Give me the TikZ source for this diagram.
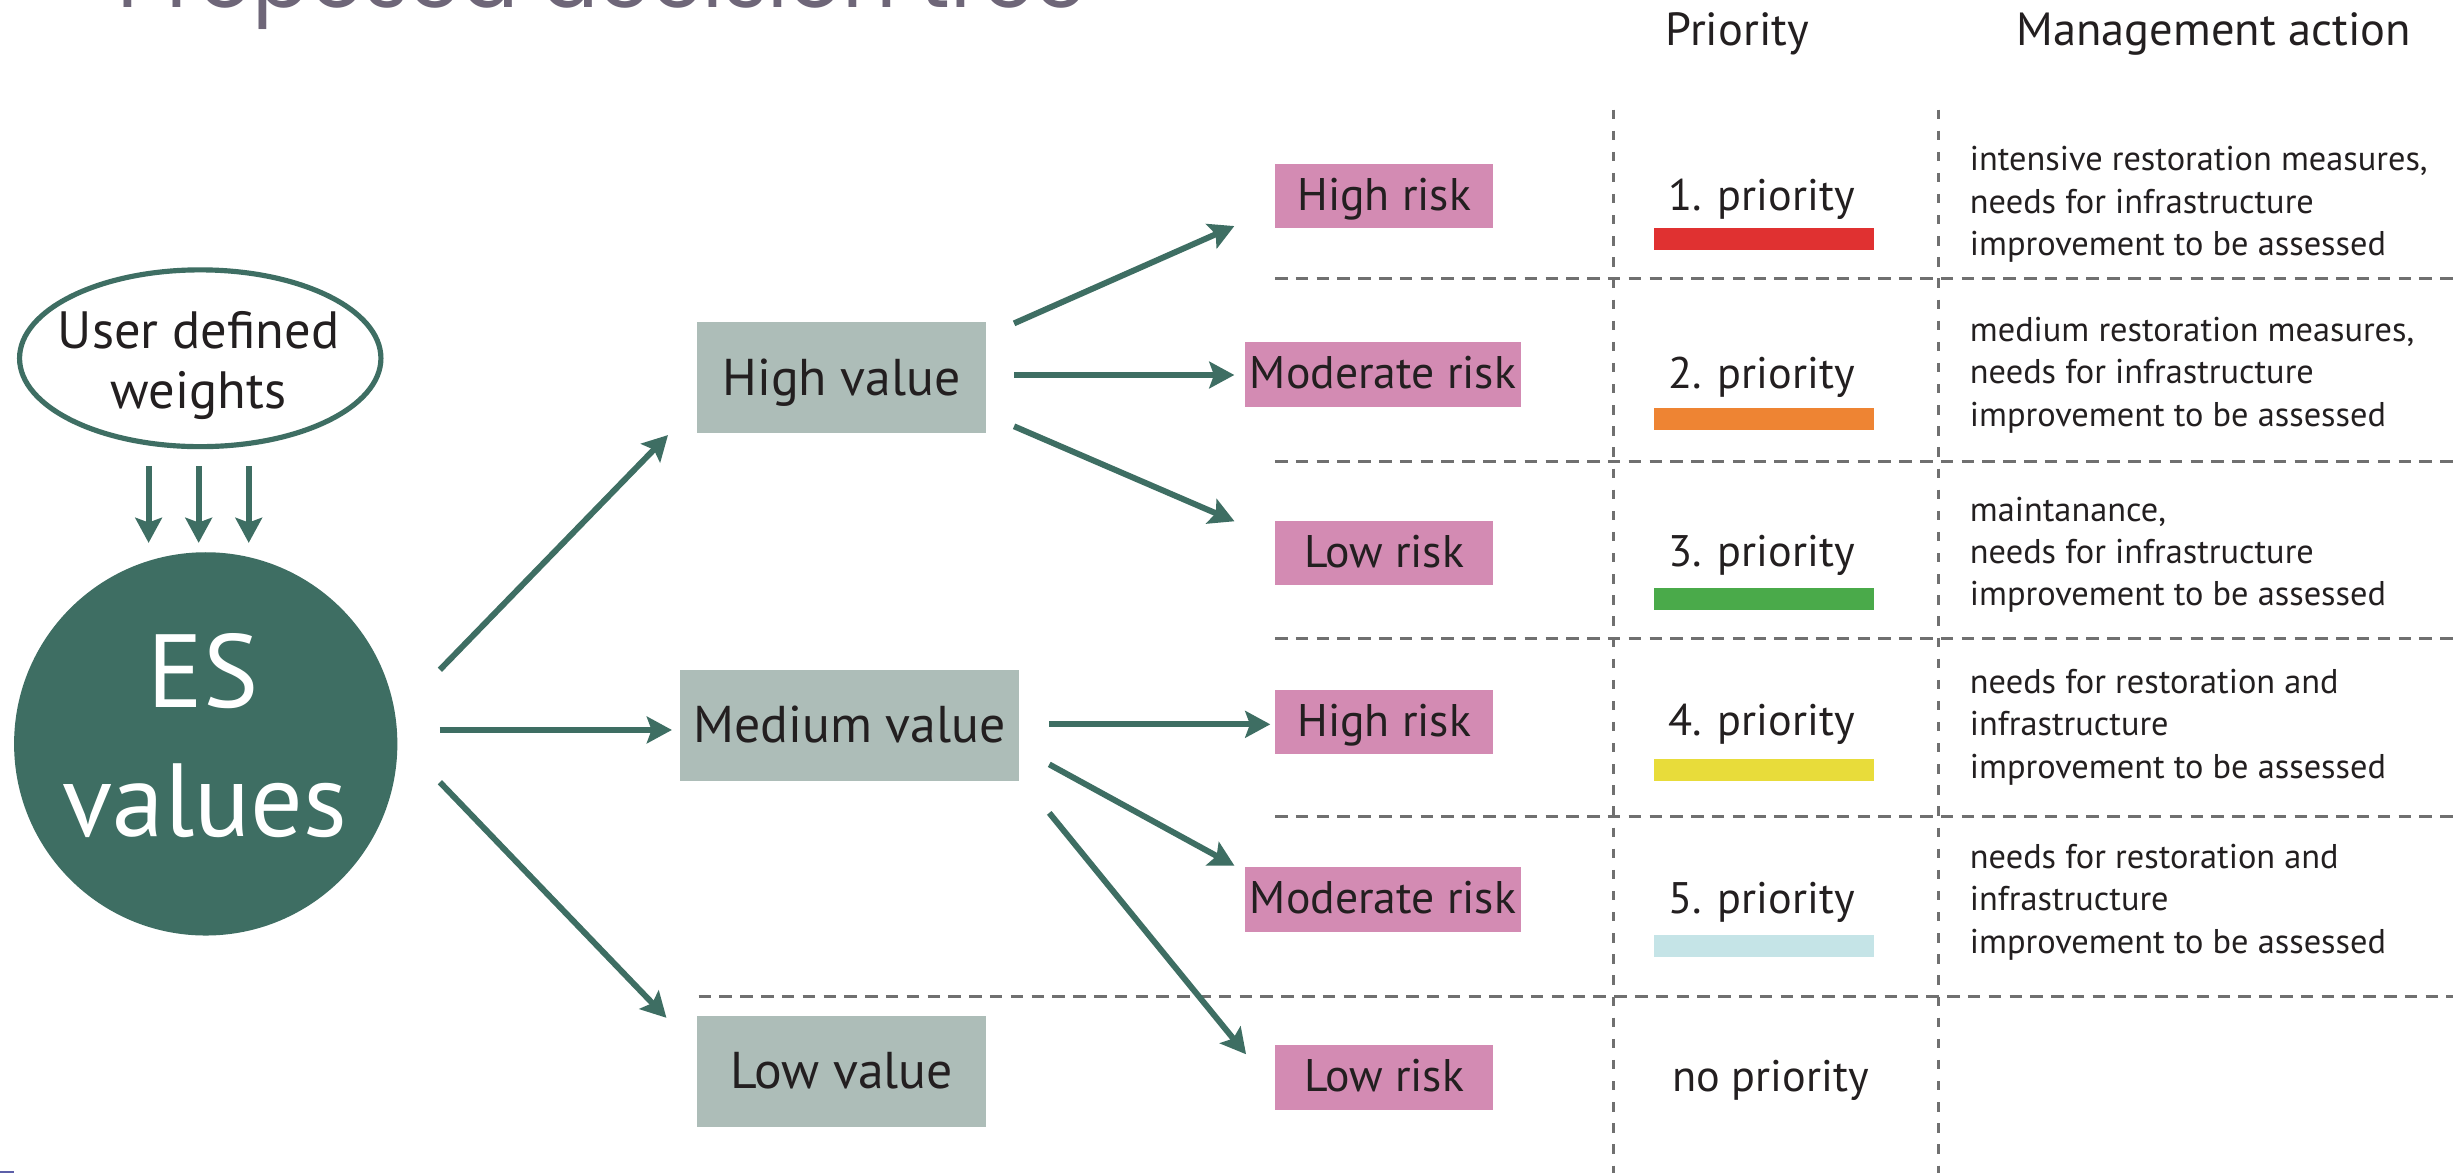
\documentclass[tikz,border=0pt]{standalone}
\usepackage{fontspec}
\setmainfont{PT Sans}
\newfontfamily\titlefont{Poppins}
\usetikzlibrary{arrows.meta,shapes.geometric}
\definecolor{esteal}{HTML}{3E6E63}
\definecolor{valfill}{HTML}{ADBDB8}
\definecolor{riskfill}{HTML}{D38BB3}
\definecolor{dashgrey}{HTML}{707070}
\definecolor{txt}{HTML}{231F20}
\definecolor{titlecol}{HTML}{6E6678}
\definecolor{pone}{HTML}{E03131}
\definecolor{ptwo}{HTML}{EE8433}
\definecolor{pthree}{HTML}{4AAA4A}
\definecolor{pfour}{HTML}{E8DC3A}
\definecolor{pfive}{HTML}{C5E4E7}
\definecolor{cornermark}{HTML}{5C5FA8}
\newlength\calcw
\newcommand\calcsize[4]{\settowidth\calcw{#2\fontsize{10pt}{12pt}\selectfont #4}\pgfmathsetmacro#1{10*#3/\calcw}}
\newcommand\fsz[1]{\fontsize{#1pt}{#1pt}\selectfont}
\tikzset{
  arr/.style={draw=esteal, line width=3.8pt, -{Stealth[length=16pt,width=17pt,inset=3pt]}},
  hdash/.style={draw=dashgrey, line width=1.9pt, dash pattern=on 8pt off 5.3pt},
  vdash/.style={draw=dashgrey, line width=1.9pt, dash pattern=on 6pt off 7.5pt},
  valbox/.style={fill=valfill, inner sep=0pt, minimum height=71pt, text height=22pt, text depth=0pt, text=txt, font=\fsz{\szVal}},
  riskbox/.style={fill=riskfill, inner sep=0pt, minimum height=41.5pt, minimum width=139.5pt, text height=18pt, text depth=0pt, text=txt, font=\fsz{\szRisk}},
  prio/.style={anchor=base, inner sep=0pt, text=txt, font=\fsz{\szPrio}},
  headtxt/.style={anchor=base, inner sep=0pt, text=txt, font=\fsz{\szHead}},
  mgmt/.style={anchor=base west, inner sep=0pt, text=txt, font=\fsz{\szMan}},
  prbar/.style={inner sep=0pt, minimum width=140.7pt, minimum height=14.3pt},
  usertxt/.style={anchor=base, inner sep=0pt, text=txt, font=\fsz{\szUser}},
  estxt/.style={anchor=base, inner sep=0pt, text=white, font=\fsz{\szES}},
}
\begin{document}
\calcsize\szTitle{\titlefont}{620}{Proposed decision tree}
\calcsize\szHead{\rmfamily}{252}{Management action}
\calcsize\szPrio{\rmfamily}{119}{2. priority}
\calcsize\szMan{\rmfamily}{266}{improvement to be assessed}
\calcsize\szVal{\rmfamily}{199.7}{Medium value}
\calcsize\szRisk{\rmfamily}{170}{Moderate risk}
\calcsize\szUser{\rmfamily}{180}{User defined}
\calcsize\szES{\rmfamily}{182}{values}
\begin{tikzpicture}[x=1pt,y=-1pt]
\fill[white] (0,0) rectangle (1568,750);
\useasboundingbox (0,0) rectangle (1568,750);

% title (cut at the top edge)
\node[anchor=base west, inner sep=0pt, text=titlecol, font={\titlefont\fsz{\szTitle}}] (title) at (75,5) {Proposed decision tree};

% dashed grid
\draw[vdash] (1031.5,70) -- (1031.5,750);
\draw[vdash] (1239,70) -- (1239,750);
\draw[hdash] (815,178) -- (1568,178);
\draw[hdash] (815,295.2) -- (1568,295.2);
\draw[hdash] (815,408.1) -- (1568,408.1);
\draw[hdash] (815,522) -- (1568,522);
\draw[hdash] (446.6,636.7) -- (1568,636.7);

% headers
\node[headtxt] (hprio) at (1110.5,28.8) {Priority};
\node[headtxt] (hman) at (1415,28.8) {Management action};

% user weights and ES values
\node[ellipse, draw=esteal, line width=3.3pt, minimum width=231pt, minimum height=113pt, inner sep=0pt] (user) at (128,229) {};
\node[usertxt] (userA) at (127,222.5) {User defined};
\node[usertxt] (userB) at (127,261) {weights};
\node[circle, fill=esteal, minimum size=245pt, inner sep=0pt] (es) at (131.5,475.5) {};
\node[estxt] (esA) at (130,452) {ES};
\node[estxt] (esB) at (131,534.5) {values};

% value boxes
\node[valbox, minimum width=185pt] (hv) at (538,241.5) {High value};
\node[valbox, minimum width=216.3pt] (mv) at (543,463.9) {Medium value};
\node[valbox, minimum width=185pt] (lv) at (538,684.9) {Low value};

% risk boxes
\node[riskbox] (r1) at (884.75,125.3) {High risk};
\node[riskbox, minimum width=177pt] (r2) at (884,239.4) {Moderate risk};
\node[riskbox] (r3) at (884.75,353.5) {Low risk};
\node[riskbox] (r4) at (884.75,461.5) {High risk};
\node[riskbox, minimum width=177pt] (r5) at (884,575) {Moderate risk};
\node[riskbox] (r6) at (884.75,688.8) {Low risk};

% priorities
\node[prio] (pr1) at (1126,134.7) {1. priority};
\node[prbar, fill=pone] (b1) at (1127.6,152.7) {};
\node[prio] (pr2) at (1126,248.3) {2. priority};
\node[prbar, fill=ptwo] (b2) at (1127.6,267.9) {};
\node[prio] (pr3) at (1126,362.3) {3. priority};
\node[prbar, fill=pthree] (b3) at (1127.6,382.8) {};
\node[prio] (pr4) at (1126,470) {4. priority};
\node[prbar, fill=pfour] (b4) at (1127.6,492.1) {};
\node[prio] (pr5) at (1126,584) {5. priority};
\node[prbar, fill=pfive] (b5) at (1127.6,604.6) {};
\node[prio] (pr0) at (1131.7,698) {no priority};

% management actions
\node[mgmt] (m1a) at (1259,108.7) {intensive restoration measures,};
\node[mgmt] (m1b) at (1259,136.2) {needs for infrastructure};
\node[mgmt] (m1c) at (1259,163) {improvement to be assessed};
\node[mgmt] (m2a) at (1259,218.5) {medium restoration measures,};
\node[mgmt] (m2b) at (1259,245) {needs for infrastructure};
\node[mgmt] (m2c) at (1259,272.8) {improvement to be assessed};
\node[mgmt] (m3a) at (1259,333.5) {maintanance,};
\node[mgmt] (m3b) at (1259,360.2) {needs for infrastructure};
\node[mgmt] (m3c) at (1259,386.8) {improvement to be assessed};
\node[mgmt] (m4a) at (1259,443.3) {needs for restoration and};
\node[mgmt] (m4b) at (1259,470) {infrastructure};
\node[mgmt] (m4c) at (1259,497.6) {improvement to be assessed};
\node[mgmt] (m5a) at (1259,555.2) {needs for restoration and};
\node[mgmt] (m5b) at (1259,581.8) {infrastructure};
\node[mgmt] (m5c) at (1259,609.5) {improvement to be assessed};

% connector end points
\coordinate (w1s) at (95,298);   \coordinate (w1e) at (95,347);
\coordinate (w2s) at (127,298);  \coordinate (w2e) at (127,347);
\coordinate (w3s) at (159,298);  \coordinate (w3e) at (159,347);
\coordinate (a1s) at (281.2,428.1); \coordinate (a1e) at (427,278.1);
\coordinate (a2s) at (281.2,466.6); \coordinate (a2e) at (429.5,466.6);
\coordinate (a3s) at (281.2,500);   \coordinate (a3e) at (426,650.6);
\coordinate (b1s) at (648.2,206.7); \coordinate (b1e) at (789,144.5);
\coordinate (b2s) at (648.2,239.7); \coordinate (b2e) at (789,239.7);
\coordinate (b3s) at (648.2,272.5); \coordinate (b3e) at (789.1,333.2);
\coordinate (c1s) at (670.7,463);   \coordinate (c1e) at (812,463);
\coordinate (c2s) at (670.7,488.6); \coordinate (c2e) at (789.1,553.4);
\coordinate (c3s) at (670.7,519.6); \coordinate (c3e) at (796.5,673.9);

% connectors
\draw[arr] (w1s) -- (w1e);
\draw[arr] (w2s) -- (w2e);
\draw[arr] (w3s) -- (w3e);
\draw[arr] (a1s) -- (a1e);
\draw[arr] (a2s) -- (a2e);
\draw[arr] (a3s) -- (a3e);
\draw[arr] (b1s) -- (b1e);
\draw[arr] (b2s) -- (b2e);
\draw[arr] (b3s) -- (b3e);
\draw[arr] (c1s) -- (c1e);
\draw[arr] (c2s) -- (c2e);
\draw[arr] (c3s) -- (c3e);

% small mark at the lower left corner
\fill[cornermark] (0,748.3) rectangle (9,750);
\end{tikzpicture}
\end{document}
